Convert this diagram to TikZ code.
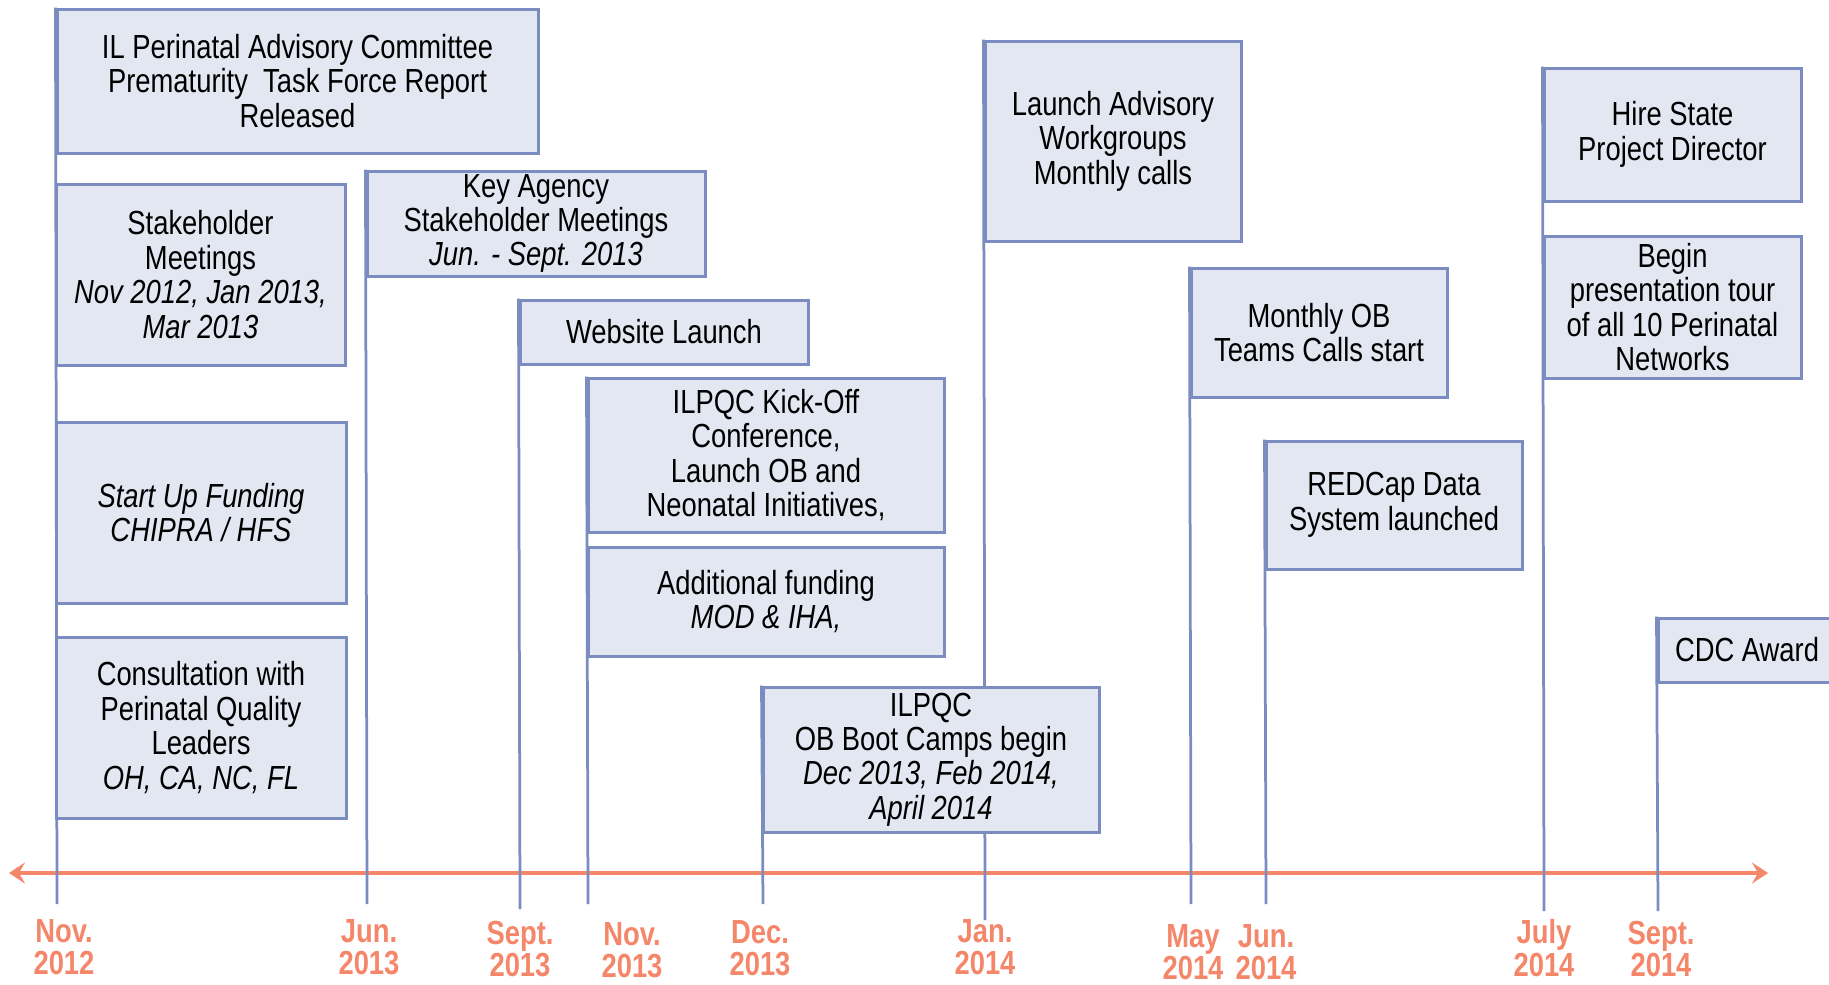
\documentclass[tikz,border=0pt]{standalone}
\usepackage{fontspec}
\setmainfont{Liberation Sans}[FakeStretch=0.82]
\usepackage{xcolor}
\usepackage{tikz}
\usetikzlibrary{arrows.meta,backgrounds}

\definecolor{boxline}{HTML}{7B8CC0}
\definecolor{boxfill}{HTML}{E3E7F2}
\definecolor{salmon}{HTML}{F4866A}

\begin{document}
\begin{tikzpicture}[
    event/.style={draw=boxline, fill=boxfill, line width=0.06cm, inner sep=0pt,
        align=center, font=\fontsize{19}{19.6}\selectfont},
    stem/.style={boxline, line width=0.055cm},
    datelbl/.style={text=salmon, align=center, font=\fontsize{19}{18.4}\selectfont\bfseries},
    timeline/.style={salmon, line width=0.08cm,
        {Stealth[length=0.32cm,width=0.42cm,inset=0.12cm]}-{Stealth[length=0.32cm,width=0.42cm,inset=0.12cm]}}
]
    \useasboundingbox (0,0) rectangle (36.58,-19.68);

    % Event boxes
    \node[event, minimum width=9.62cm, minimum height=2.88cm] (ilpac) at (5.95,-1.62)
        {IL Perinatal Advisory Committee\\Prematurity\ \ Task Force Report\\Released};
    \node[event, minimum width=5.78cm, minimum height=3.62cm] (stake) at (4.01,-5.49)
        {Stakeholder\\Meetings\\\textit{Nov 2012, Jan 2013,}\\\textit{Mar 2013}};
    \node[event, minimum width=5.80cm, minimum height=3.62cm] (startup) at (4.02,-10.25)
        {\textit{Start Up Funding}\\\textit{CHIPRA / HFS}};
    \node[event, minimum width=5.80cm, minimum height=3.62cm] (consult) at (4.02,-14.55)
        {Consultation with\\Perinatal Quality\\Leaders\\\textit{OH, CA, NC, FL}};
    \node[event, minimum width=6.76cm, minimum height=2.10cm] (agency) at (10.72,-4.47)
        {Key Agency\\Stakeholder Meetings\\\textit{Jun. - Sept. 2013}};
    \node[event, minimum width=5.76cm, minimum height=1.28cm] (website) at (13.28,-6.64)
        {Website Launch};
    \node[event, minimum width=7.12cm, minimum height=3.08cm] (kickoff) at (15.32,-9.10)
        {ILPQC Kick-Off\\Conference,\\Launch OB and\\Neonatal Initiatives,};
    \node[event, minimum width=7.12cm, minimum height=2.18cm] (addfund) at (15.32,-12.03)
        {Additional funding\\\textit{MOD \& IHA,}};
    \node[event, minimum width=6.72cm, minimum height=2.90cm] (bootcamp) at (18.62,-15.19)
        {ILPQC\\OB Boot Camps begin\\\textit{Dec 2013, Feb 2014,}\\\textit{April 2014}};
    \node[event, minimum width=5.12cm, minimum height=4.00cm] (advisory) at (22.26,-2.82)
        {Launch Advisory\\Workgroups\\Monthly calls};
    \node[event, minimum width=5.12cm, minimum height=2.58cm] (obcalls) at (26.38,-6.65)
        {Monthly OB\\Teams Calls start};
    \node[event, minimum width=5.12cm, minimum height=2.56cm] (redcap) at (27.88,-10.10)
        {REDCap Data\\System launched};
    \node[event, minimum width=5.14cm, minimum height=2.66cm] (director) at (33.45,-2.69)
        {Hire State\\Project Director};
    \node[event, minimum width=5.14cm, minimum height=2.84cm] (tour) at (33.45,-6.14)
        {Begin\\presentation tour\\of all 10 Perinatal\\Networks};
    \node[event, minimum width=3.56cm, minimum height=1.28cm] (cdc) at (34.94,-13.00)
        {CDC Award};

    % Date labels
    \node[datelbl] (nov12) at (1.28,-18.94) {Nov.\\2012};
    \node[datelbl] (jun13) at (7.38,-18.94) {Jun.\\2013};
    \node[datelbl] (sep13) at (10.40,-18.98) {Sept.\\2013};
    \node[datelbl] (nov13) at (12.64,-19.00) {Nov.\\2013};
    \node[datelbl] (dec13) at (15.20,-18.96) {Dec.\\2013};
    \node[datelbl] (jan14) at (19.70,-18.94) {Jan.\\2014};
    \node[datelbl] (may14) at (23.86,-19.04) {May\\2014};
    \node[datelbl] (jun14) at (25.32,-19.04) {Jun.\\2014};
    \node[datelbl] (jul14) at (30.88,-18.96) {July\\2014};
    \node[datelbl] (sep14) at (33.22,-18.98) {Sept.\\2014};

    % Tick ends and axis ends
    \coordinate (t-nov12) at (1.14,-18.08);
    \coordinate (t-jun13) at (7.34,-18.08);
    \coordinate (t-sep13) at (10.40,-18.18);
    \coordinate (t-nov13) at (11.76,-18.08);
    \coordinate (t-dec13) at (15.26,-18.08);
    \coordinate (t-jan14) at (19.70,-18.40);
    \coordinate (t-may14) at (23.82,-18.08);
    \coordinate (t-jun14) at (25.32,-18.08);
    \coordinate (t-jul14) at (30.88,-18.22);
    \coordinate (t-sep14) at (33.16,-18.22);
    \coordinate (axis-l) at (0.18,-17.46);
    \coordinate (axis-r) at (35.36,-17.46);

    \begin{scope}[on background layer]
        % Time axis
        \draw[timeline] (axis-l) -- (axis-r);
        % Stems
        \draw[stem] (ilpac.north west) -- (t-nov12);
        \draw[stem] (agency.north west) -- (t-jun13);
        \draw[stem] (website.north west) -- (t-sep13);
        \draw[stem] (kickoff.north west) -- (t-nov13);
        \draw[stem] (bootcamp.north west) -- (t-dec13);
        \draw[stem] (advisory.north west) -- (t-jan14);
        \draw[stem] (obcalls.north west) -- (t-may14);
        \draw[stem] (redcap.north west) -- (t-jun14);
        \draw[stem] (director.north west) -- (t-jul14);
        \draw[stem] (cdc.north west) -- (t-sep14);
    \end{scope}
\end{tikzpicture}
\end{document}
